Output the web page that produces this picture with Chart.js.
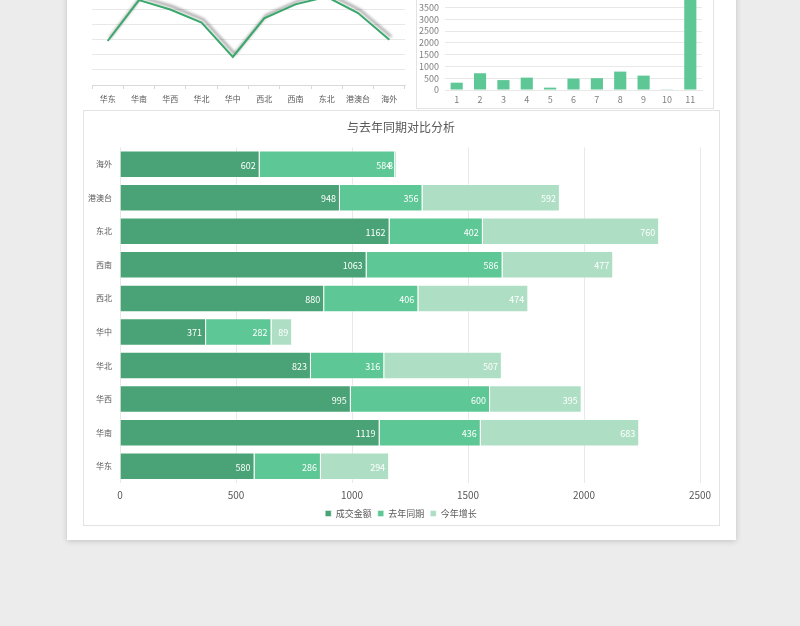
<!DOCTYPE html>
<html>
<head>
<meta charset="utf-8">
<script src="https://cdn.jsdelivr.net/npm/chart.js@4"></script>
<style>
  html, body { margin: 0; padding: 0; background: #ececec; overflow: hidden; }
  body { width: 800px; height: 626px; position: relative; font-family: "Noto Sans CJK SC", sans-serif; }
  #sheet { position: absolute; left: 67px; top: -20px; width: 669px; height: 560px; background: #fff;
           box-shadow: 0 1px 6px rgba(0,0,0,0.18); }
  .box { position: absolute; }
  #rightPanel { left: 416px; top: -10px; width: 296px; height: 118px; border: 1px solid #e3e3e3; border-top: none; }
  #mainPanel { left: 83px; top: 110px; width: 635px; height: 414px; border: 1px solid #e3e3e3; }
</style>
</head>
<body>
<div id="sheet"></div>
<div class="box" id="rightPanel"></div>
<div class="box" id="mainPanel"></div>
<div class="box" style="left:84px; top:-15px; width:326px; height:125px;"><canvas id="lineChart"></canvas></div>
<div class="box" style="left:417px; top:-35px; width:295px; height:143px;"><canvas id="colChart"></canvas></div>
<div class="box" style="left:84px; top:111px; width:634px; height:417px;"><canvas id="mainChart"></canvas></div>
<script>
//-------------------
// data
//-------------------
var regions = ["华东", "华南", "华西", "华北", "华中", "西北", "西南", "东北", "港澳台", "海外"];
var dealAmount = [580, 1119, 995, 823, 371, 880, 1063, 1162, 948, 602];
var lastYear   = [286, 436, 600, 316, 282, 406, 586, 402, 356, 584];
var growth     = [294, 683, 395, 507, 89, 474, 477, 760, 592, 8];
var regionTotals = [1160, 2238, 1990, 1646, 742, 1760, 2126, 2324, 1896, 1194];

var colLabels = ["1", "2", "3", "4", "5", "6", "7", "8", "9", "10", "11"];
var colValues = [310, 710, 420, 525, 100, 485, 500, 780, 610, 30, 4500];

var seriesNames = ["成交金额", "去年同期", "今年增长"];
var mainTicks = [0, 500, 1000, 1500, 2000, 2500];

//-------------------
// styles
//-------------------
var cjk = '"Noto Sans CJK SC", sans-serif';
var darkGreen = "rgb(74,163,118)";
var midGreen = "rgb(94,199,150)";
var lightGreen = "rgb(174,223,196)";
var lineGreen = "rgb(58,168,108)";
var gridColor = "#e8e8e8";
var textColor = "#595959";

Chart.defaults.font.family = cjk;
Chart.defaults.color = textColor;
Chart.defaults.animation = false;

function plainNumber(v) { return v; }

// gray shadow under the line
var lineShadow = {
    id: 'lineShadow',
    beforeDatasetDraw: function (chart) {
        var c = chart.ctx;
        c.save();
        c.shadowColor = 'rgba(0,0,0,0.45)';
        c.shadowBlur = 3;
        c.shadowOffsetX = 2;
        c.shadowOffsetY = -3;
    },
    afterDatasetDraw: function (chart) {
        chart.ctx.restore();
    }
};

// white numbers at the end of each segment
var segLabels = {
    id: 'segLabels',
    afterDatasetsDraw: function (chart) {
        var c = chart.ctx;
        c.save();
        c.font = '9px ' + cjk;
        c.fillStyle = '#ffffff';
        c.textAlign = 'right';
        c.textBaseline = 'middle';
        chart.data.datasets.forEach(function (ds, i) {
            chart.getDatasetMeta(i).data.forEach(function (bar, j) {
                c.fillText(ds.data[j], bar.x - 4, bar.y + 1);
            });
        });
        c.restore();
    }
};

//-------------------
// top left line chart
//-------------------
new Chart(document.getElementById('lineChart'), {
    type: 'line',
    data: {
        labels: regions,
        datasets: [{
            data: regionTotals,
            borderColor: lineGreen,
            borderWidth: 2,
            pointRadius: 0,
            tension: 0
        }]
    },
    options: {
        responsive: true,
        maintainAspectRatio: false,
        layout: { padding: { left: 8, right: 5, top: 9 } },
        plugins: { legend: { display: false }, tooltip: { enabled: false } },
        scales: {
            x: {
                offset: true,
                grid: { offset: true, drawOnChartArea: false, drawTicks: true, tickLength: 4, color: '#d9d9d9' },
                border: { color: '#d9d9d9' },
                ticks: { font: { size: 8 }, color: textColor, padding: 5, maxRotation: 0 },
                afterFit: function (s) { s.height = 25; }
            },
            y: {
                min: 0, max: 2400,
                ticks: { display: false, stepSize: 400 },
                grid: { color: gridColor, drawTicks: false },
                border: { display: false },
                afterFit: function (s) { s.width = 0; }
            }
        }
    },
    plugins: [lineShadow]
});

//-------------------
// top right column chart
//-------------------
new Chart(document.getElementById('colChart'), {
    type: 'bar',
    data: {
        labels: colLabels,
        datasets: [{
            data: colValues,
            backgroundColor: midGreen,
            categoryPercentage: 1,
            barPercentage: 0.52
        }]
    },
    options: {
        responsive: true,
        maintainAspectRatio: false,
        layout: { padding: { top: 7, right: 10 } },
        plugins: { legend: { display: false }, tooltip: { enabled: false } },
        scales: {
            x: {
                grid: { display: false, drawTicks: false },
                border: { color: gridColor },
                ticks: { font: { size: 9 }, color: '#808080', padding: 4, maxRotation: 0 },
                afterFit: function (s) { s.height = 18; }
            },
            y: {
                min: 0, max: 5000,
                ticks: { stepSize: 500, autoSkip: false, font: { size: 9 }, color: '#808080', padding: 6, callback: plainNumber },
                grid: { color: gridColor, drawTicks: false },
                border: { display: false },
                afterFit: function (s) {
                    s.width = 28;
                    // the top label is off-page anyway, don't reserve room for it
                    s.paddingTop = 0;
                    s.paddingBottom = 0;
                }
            }
        }
    }
});

//-------------------
// main stacked bar chart
//-------------------
var colors = [darkGreen, midGreen, lightGreen];
var seriesData = [dealAmount, lastYear, growth];

new Chart(document.getElementById('mainChart'), {
    type: 'bar',
    data: {
        labels: regions,
        datasets: seriesNames.map(function (name, i) {
            return {
                label: name,
                data: seriesData[i],
                backgroundColor: colors[i],
                borderColor: 'rgba(255,255,255,0.45)',
                borderWidth: 1,
                categoryPercentage: 0.82,
                barPercentage: 1
            };
        })
    },
    options: {
        indexAxis: 'y',
        responsive: true,
        maintainAspectRatio: false,
        layout: { padding: 0 },
        plugins: {
            title: {
                display: true,
                text: '与去年同期对比分析',
                font: { size: 12, weight: 'normal' },
                color: textColor,
                padding: { top: 9, bottom: 13 }
            },
            legend: {
                position: 'bottom',
                labels: {
                    boxWidth: 6, boxHeight: 6,
                    font: { size: 9 },
                    color: textColor,
                    padding: 6
                }
            },
            tooltip: { enabled: false }
        },
        scales: {
            x: {
                stacked: true,
                min: 0, max: 2500,
                afterBuildTicks: function (s) { s.ticks = mainTicks.map(function (v) { return { value: v }; }); },
                grid: { color: gridColor, drawTicks: false },
                border: { display: false },
                ticks: { font: { size: 10 }, color: textColor, padding: 6, callback: plainNumber },
                afterFit: function (s) { s.height = 20; }
            },
            y: {
                stacked: true,
                reverse: true,
                grid: { display: false, drawTicks: false },
                border: { display: false },
                ticks: { font: { size: 8 }, color: textColor, padding: 8 },
                afterFit: function (s) { s.width = 36; }
            },
            // empty right-hand axis, only reserves space so title and legend stay centred
            yRight: {
                type: 'category',
                position: 'right',
                grid: { display: false, drawTicks: false },
                border: { display: false },
                ticks: { display: false },
                afterFit: function (s) { s.width = 18; }
            }
        }
    },
    plugins: [segLabels]
});
</script>
</body>
</html>
